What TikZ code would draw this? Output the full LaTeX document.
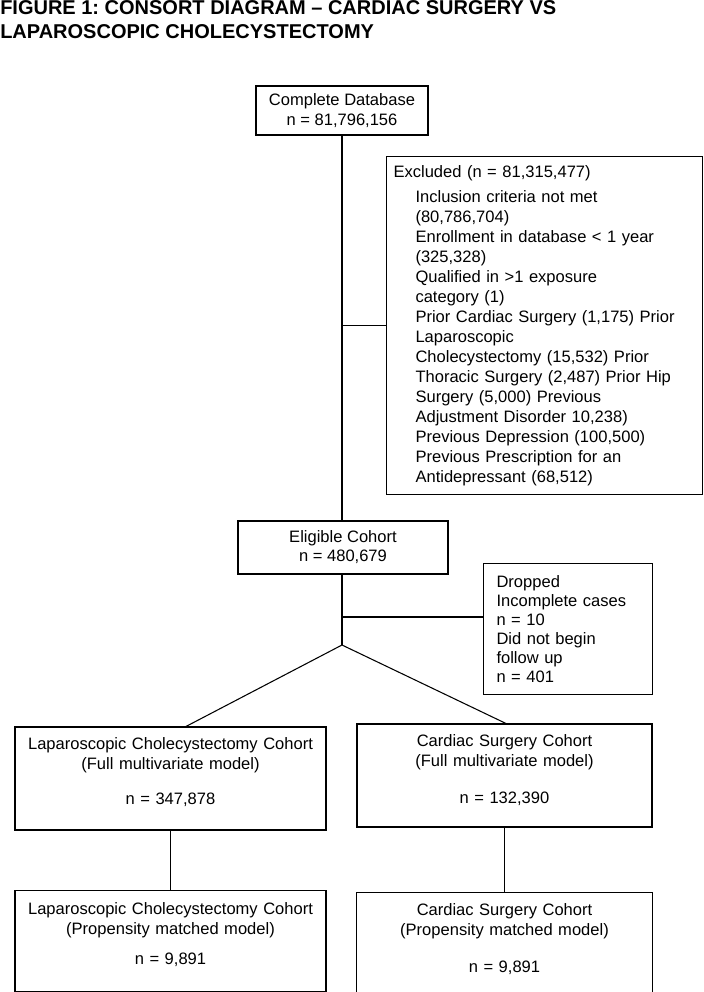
\documentclass[tikz,border=0pt]{standalone}
\usepackage{fontspec}
\setmainfont{Liberation Sans}
\usetikzlibrary{positioning}
\frenchspacing

\begin{document}
\begin{tikzpicture}[
    x=0.75pt, y=-0.75pt,
    font=\fontsize{12.4pt}{15pt}\selectfont,
    box/.style={rectangle, draw, line width=0.8pt, align=center, inner sep=0pt},
    cohort/.style={box, text width=215pt, text height=9pt},
    link/.style={line width=0.8pt}
]
\useasboundingbox (0,0) rectangle (703,992);

\node[anchor=north west, inner sep=0pt, align=left, font=\fontsize{15pt}{18pt}\selectfont\bfseries] (title) at (0,0) {FIGURE 1: CONSORT DIAGRAM – CARDIAC SURGERY VS\\LAPAROSCOPIC CHOLECYSTECTOMY};

\node[box, minimum width=129pt, minimum height=36.75pt] (db) at (342,110.5) {Complete Database\\n = 81,796,156};

\node[box, anchor=north west, text width=226.5pt, inner xsep=5.25pt, minimum height=253.5pt, align=left] (excl) at (386,156) {Excluded (n = 81,315,477)\par\vspace{3.75pt}\leftskip=16.5pt
Inclusion criteria not met\\(80,786,704)\\Enrollment in database < 1 year\\(325,328)\\Qualified in >1 exposure\\category (1)\\Prior Cardiac Surgery (1,175) Prior\\Laparoscopic\\Cholecystectomy (15,532) Prior\\Thoracic Surgery (2,487) Prior Hip\\Surgery (5,000) Previous\\Adjustment Disorder 10,238)\\Previous Depression (100,500)\\Previous Prescription for an\\Antidepressant (68,512)\par};

\node[box, minimum width=157.5pt, minimum height=39.75pt, font=\fontsize{12.4pt}{14.25pt}\selectfont] (elig) at (343,547.5) {Eligible Cohort\\n = 480,679};

\node[box, anchor=north west, text width=107.25pt, inner xsep=9.75pt, minimum height=98.25pt, align=left, font=\fontsize{12.4pt}{14.25pt}\selectfont] (drop) at (483,563) {Dropped\\Incomplete cases\\n = 10\\Did not begin\\follow up\\n = 401};

\node[cohort, minimum width=233.25pt, minimum height=77.25pt, text depth=51.8pt] (lcfull) at (170.5,778.5) {Laparoscopic Cholecystectomy Cohort\\(Full multivariate model)\\[11.25pt]n = 347,878};
\node[cohort, minimum width=221.25pt, minimum height=77.25pt, text depth=51.8pt] (csfull) at (504.5,775.5) {Cardiac Surgery Cohort\\(Full multivariate model)\\[12.75pt]n = 132,390};

\node[cohort, minimum width=233.25pt, minimum height=75.75pt, text depth=48.8pt, below=44.25pt of lcfull] (lcpm) {Laparoscopic Cholecystectomy Cohort\\(Propensity matched model)\\[7.5pt]n = 9,891};
\node[cohort, minimum width=222pt, minimum height=75pt, text depth=49.5pt, below=48pt of csfull] (cspm) {Cardiac Surgery Cohort\\(Propensity matched model)\\[12.75pt]n = 9,891};

% joints on the main line
\coordinate (dropj) at (342,617);
\coordinate (split) at (342,645);

\draw[link] (db.south) -- (db.south |- elig.north);
\draw[link] (excl.west) -- (excl.west -| db.south);
\draw[link] (elig.south -| split) -- (split);
\draw[link] (dropj) -- (dropj -| drop.west);
\draw[link] (split) -- ([xshift=11.6pt]lcfull.north);
\draw[link] (split) -- ([xshift=1.1pt]csfull.north);
\draw[link] (lcfull) -- (lcpm);
\draw[link] (csfull) -- (cspm);

\end{tikzpicture}
\end{document}
